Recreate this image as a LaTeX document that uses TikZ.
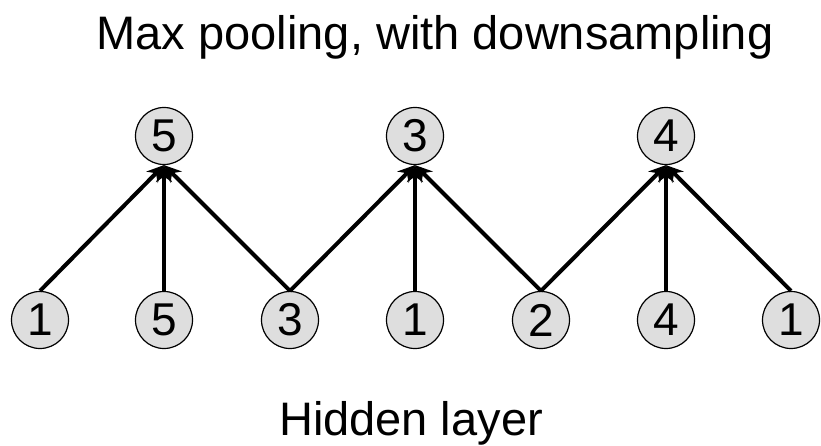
\documentclass[tikz,border=0pt]{standalone}
\usepackage{fontspec}
\setmainfont{Liberation Sans}
\usetikzlibrary{arrows.meta}
\begin{document}
\begin{tikzpicture}[x=1pt,y=-1pt,
  unit/.style={circle, draw=black, line width=1.2pt, fill=black!13,
    minimum size=57pt, inner sep=0pt, font=\fontsize{46}{46}\selectfont},
  link/.style={line width=4pt, -{Stealth[length=17pt,width=16pt]}},
  caption/.style={anchor=base, inner sep=0pt, font=\fontsize{47}{56}\selectfont}]
\useasboundingbox (0,0) rectangle (821,446);
% captions
\node[caption] (title) at (435,50) {Max pooling, with downsampling};
\node[caption] (hidden) at (411,435) {Hidden layer};
% pooled units
\node[unit] (p1) at (164,136) {5};
\node[unit] (p2) at (415,136) {3};
\node[unit] (p3) at (666,136) {4};
% hidden units
\node[unit] (h1) at (40,320) {1};
\node[unit] (h2) at (164,320) {5};
\node[unit] (h3) at (290,320) {3};
\node[unit] (h4) at (415,320) {1};
\node[unit] (h5) at (541,320) {2};
\node[unit] (h6) at (666,320) {4};
\node[unit] (h7) at (791,320) {1};
% pooling connections
\foreach \h/\p in {h1/p1,h2/p1,h3/p1,h3/p2,h4/p2,h5/p2,h5/p3,h6/p3,h7/p3}
  \draw[link] (\h.north) -- (\p.south);
\end{tikzpicture}
\end{document}
